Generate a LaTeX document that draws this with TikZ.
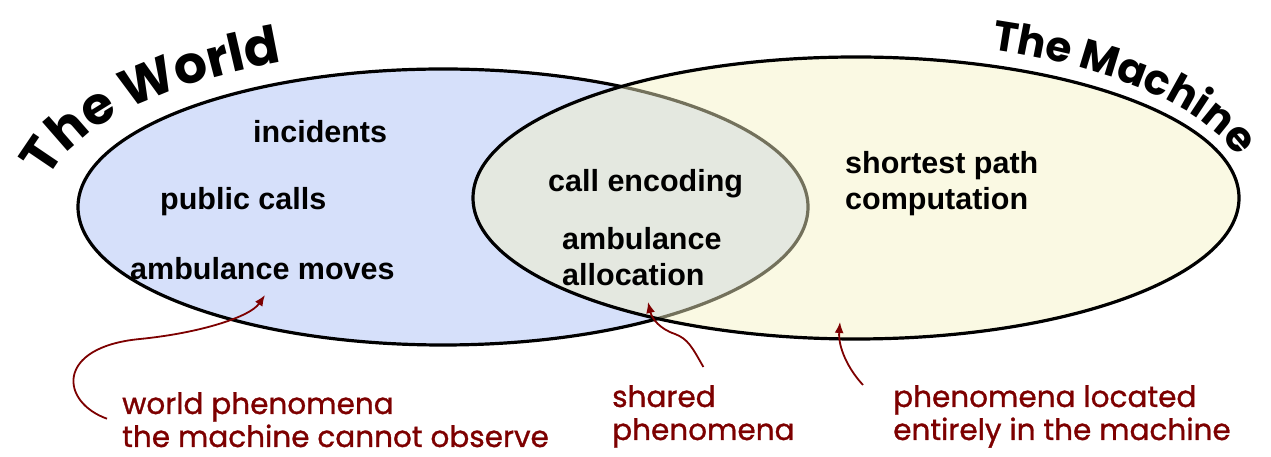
\documentclass[tikz,border=0pt]{standalone}
\usepackage{fontspec}
\setmainfont{Liberation Sans}
\newfontfamily\handfont{Poppins}
\newfontfamily\notefont{Poppins}[FakeBold=1]
\usetikzlibrary{arrows.meta,calc,decorations.text}

\definecolor{worldblue}{RGB}{214,224,250}
\definecolor{machineyellow}{RGB}{245,242,196}
\definecolor{notered}{RGB}{125,0,0}

\newcommand\worldtitle{\handfont\bfseries\fontsize{52}{52}\selectfont}
\newcommand\machinetitle{\handfont\bfseries\fontsize{42}{42}\selectfont}

\begin{document}
\begin{tikzpicture}[x=1pt, y=1pt,
	phen/.style={font=\bfseries\fontsize{30.5}{36}\selectfont, anchor=base west, inner sep=0pt, align=left},
	note/.style={text=notered, font=\notefont\fontsize{29.5}{33}\selectfont, anchor=base west, inner sep=0pt, align=left},
	pointer/.style={draw=notered, line width=1.8pt, -{Latex[length=11pt,width=9pt]}}]
	\useasboundingbox (0,0) rectangle (1271,457);
	% the two domains
	\draw[line width=3.2pt, fill=worldblue] (443,250) ellipse[x radius=365, y radius=138];
	\draw[line width=3.2pt, fill=machineyellow, fill opacity=0.47] (856,259) ellipse[x radius=383, y radius=141];
	% titles bent round the ellipses
	\path[decorate, decoration={text along path, text align=left, text={|\worldtitle|The World}}]
		($(443,250)+(170:400 and 158)$) arc[start angle=170, end angle=110, x radius=400, y radius=158];
	\path[decorate, decoration={text along path, text align=left, text={|\machinetitle|The Machine}}]
		($(856,259)+(70:395 and 158)$) arc[start angle=70, end angle=14, x radius=395, y radius=158];
	% phenomena (base is the last line)
	\node[phen] (incid) at (253,314) {incidents};
	\node[phen] (calls) at (160,247) {public calls};
	\node[phen] (moves) at (130,177) {ambulance moves};
	\node[phen] (encode) at (548,265) {call encoding};
	\node[phen] (alloc) at (562,171) {ambulance\\allocation};
	\node[phen] (path) at (845,247) {shortest path\\computation};
	% notes
	\node[note] (wnote) at (122,10) {world phenomena\\the machine cannot observe};
	\node[note] (snote) at (612,17) {shared\\phenomena};
	\node[note] (mnote) at (893,17) {phenomena located\\entirely in the machine};
	\coordinate (wtip) at (265,162);
	\coordinate (stip) at (648,155);
	\coordinate (mtip) at (840,135);
	\draw[pointer] ([shift={(-15,1)}]wnote.west) .. controls (60,55) and (55,110) .. (140,118) .. controls (200,124) and (250,140) .. (wtip);
	\draw[pointer] ([yshift=18pt]snote.north) .. controls (692,110) and (688,118) .. (675,123) .. controls (660,128) and (652,138) .. (stip);
	\draw[pointer] ([xshift=-30pt]mnote.north west) .. controls (848,88) and (838,110) .. (mtip);
\end{tikzpicture}
\end{document}
